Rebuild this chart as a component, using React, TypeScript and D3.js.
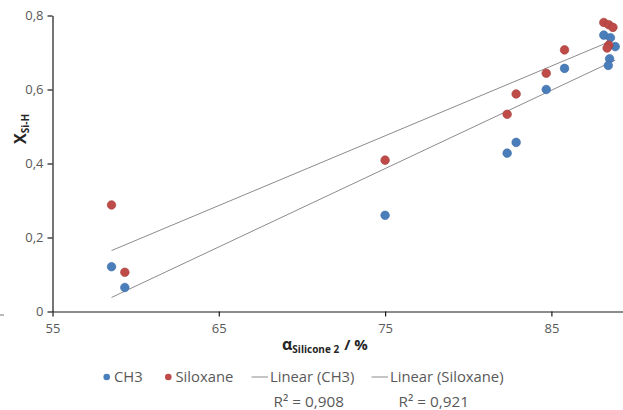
import { useEffect, useRef } from 'react'
import * as d3 from 'd3'

const WIDTH = 623
const HEIGHT = 410
const FONT = '"Open Sans", "DejaVu Sans", sans-serif'
const TEXT = '#595959'
const BLUE = '#4A7EBB'
const RED = '#BE4B48'
const TREND = '#8C8C8C'

// ── Data ──────────────────────────────────────────────────────────────────────
const ch3X = [58.55, 59.35, 75.0, 82.34, 82.88, 84.69, 85.79, 88.15, 88.55, 88.84, 88.5, 88.42]
const ch3Y = [0.121, 0.065, 0.26, 0.428, 0.457, 0.6, 0.657, 0.747, 0.74, 0.716, 0.683, 0.665]
const siloxaneX = [58.55, 59.35, 75.0, 82.34, 82.88, 84.69, 85.79, 88.15, 88.45, 88.7, 88.45, 88.35]
const siloxaneY = [0.288, 0.106, 0.409, 0.533, 0.588, 0.644, 0.707, 0.781, 0.775, 0.768, 0.72, 0.712]

const X_DOMAIN = [55, 90]
const X_TICKS = [55, 65, 75, 85]
const Y_TICKS = [0, 0.2, 0.4, 0.6, 0.8]
const R2_LABELS = ['R² = 0,908', 'R² = 0,921']
const LEGEND_LABELS = ['CH3', 'Siloxane', 'Linear (CH3)', 'Linear (Siloxane)']

type Pt = { x: number; y: number }

function zip(xs: number[], ys: number[]): Pt[] {
  return xs.map((x, i) => ({ x, y: ys[i] }))
}

// least squares fit, same as Excel's linear trendline
function linearFit(pts: Pt[]) {
  const mx = d3.mean(pts, d => d.x)!
  const my = d3.mean(pts, d => d.y)!
  const sxy = d3.sum(pts, d => (d.x - mx) * (d.y - my))
  const sxx = d3.sum(pts, d => (d.x - mx) ** 2)
  const slope = sxy / sxx
  const b = my - slope * mx
  const [x0, x1] = d3.extent(pts, d => d.x) as [number, number]
  return [{ x: x0, y: b + slope * x0 }, { x: x1, y: b + slope * x1 }]
}

const comma = (v: number) => (v === 0 ? '0' : d3.format('.1f')(v).replace('.', ','))

export default function App() {
  const svgRef = useRef<SVGSVGElement>(null)

  useEffect(() => {
    document.body.style.margin = '0'
    const svg = d3.select(svgRef.current!)
    svg.selectAll('*').remove()

    const x = d3.scaleLinear(X_DOMAIN, [52.5, 52.5 + 35 * 16.63])
    const y = d3.scaleLinear([0, 0.8], [311.5, 15.5])

    const series = [
      { pts: zip(ch3X, ch3Y), fill: BLUE, stroke: '#3C6AA3' },
      { pts: zip(siloxaneX, siloxaneY), fill: RED, stroke: '#A33E3B' },
    ]

    // ── Axes ──────────────────────────────────────────────────────────────────
    svg.append('g')
      .attr('transform', `translate(0,${y(0)})`)
      .call(d3.axisBottom(x).tickValues(X_TICKS).tickSize(5).tickSizeOuter(0).tickFormat(d => `${d}`))
      .call(ag => ag.select('.domain').attr('stroke', '#1a1a1a').attr('stroke-width', 1.2))
      .call(ag => ag.selectAll('.tick line').attr('stroke', '#1a1a1a').attr('stroke-width', 1.2))
      .call(ag => ag.selectAll('text').attr('fill', TEXT).attr('font-size', 13)
        .attr('font-family', FONT).attr('dy', '1.05em'))

    svg.append('g')
      .attr('transform', `translate(${x(55)},0)`)
      .call(d3.axisLeft(y).tickValues(Y_TICKS).tickSize(5).tickSizeOuter(0).tickFormat(d => comma(+d)))
      .call(ag => ag.select('.domain').attr('stroke', '#1a1a1a').attr('stroke-width', 1.2))
      .call(ag => ag.selectAll('.tick line').attr('stroke', '#1a1a1a').attr('stroke-width', 1.2))
      .call(ag => ag.selectAll('text').attr('fill', TEXT).attr('font-size', 13)
        .attr('font-family', FONT).attr('x', -9))

    // stray mark at the left edge of the reference crop
    svg.append('line')
      .attr('x1', 0).attr('x2', 4).attr('y1', 315).attr('y2', 315)
      .attr('stroke', '#777').attr('stroke-width', 1)

    // ── Axis titles ───────────────────────────────────────────────────────────
    const xt = svg.append('text')
      .attr('x', 282).attr('y', 350)
      .attr('font-family', FONT).attr('font-weight', 700).attr('fill', '#262626')
    xt.append('tspan').attr('font-size', 16).text('α')
    xt.append('tspan').attr('font-size', 10).attr('dy', 3).text('Silicone 2')
    xt.append('tspan').attr('font-size', 15).attr('dy', -3).attr('dx', 5).text('/ %')

    const yt = svg.append('text')
      .attr('transform', 'translate(26,144) rotate(-90)')
      .attr('font-family', FONT).attr('font-weight', 700).attr('fill', '#262626')
    yt.append('tspan').attr('font-size', 16).text('X')
    yt.append('tspan').attr('font-size', 10).attr('dy', 3).text('Si-H')

    // ── Trendlines ────────────────────────────────────────────────────────────
    const line = d3.line<Pt>().x(d => x(d.x)).y(d => y(d.y))
    series.forEach(s => {
      svg.append('path')
        .datum(linearFit(s.pts))
        .attr('d', line)
        .attr('fill', 'none').attr('stroke', TREND).attr('stroke-width', 1)
    })

    // ── Points ────────────────────────────────────────────────────────────────
    series.forEach(s => {
      svg.append('g').selectAll('circle')
        .data(s.pts)
        .join('circle')
        .attr('cx', d => x(d.x)).attr('cy', d => y(d.y)).attr('r', 4.3)
        .attr('fill', s.fill).attr('stroke', s.stroke).attr('stroke-width', 0.6)
    })

    // ── Legend ────────────────────────────────────────────────────────────────
    const legendY = 377
    const lg = svg.append('g').attr('font-family', FONT).attr('font-size', 14.8).attr('fill', TEXT)
    const markerX = [106.7, 168.3]
    const textX = [114, 175.5, 270, 390]
    const lineX = [[251.5, 268], [371.5, 388]]

    markerX.forEach((mx, i) => {
      lg.append('circle').attr('cx', mx).attr('cy', legendY).attr('r', 3.3)
        .attr('fill', series[i].fill)
    })
    lineX.forEach(([a, b]) => {
      lg.append('line').attr('x1', a).attr('x2', b).attr('y1', legendY).attr('y2', legendY)
        .attr('stroke', TREND).attr('stroke-width', 1)
    })
    LEGEND_LABELS.forEach((t, i) => {
      lg.append('text').attr('x', textX[i]).attr('y', legendY).attr('dy', '0.36em').text(t)
    })

    const r2X = [273.5, 398.5]
    R2_LABELS.forEach((t, i) => {
      lg.append('text').attr('x', r2X[i]).attr('y', 407).attr('font-size', 15.3).text(t)
    })
  }, [])

  return <svg ref={svgRef} width={WIDTH} height={HEIGHT} style={{ display: 'block', background: '#fff' }} />
}
